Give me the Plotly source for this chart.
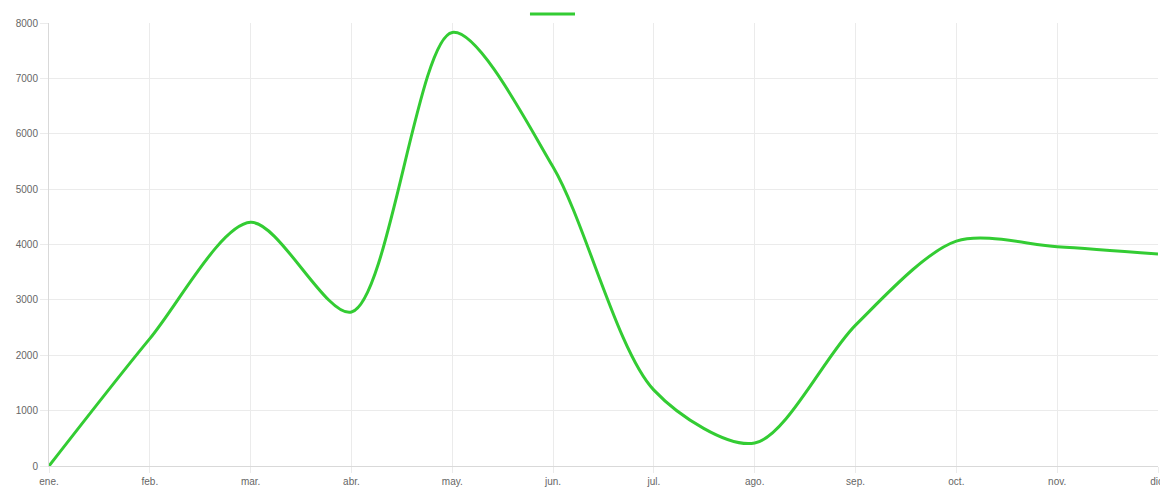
import plotly.graph_objects as go

months = ["ene.", "feb.", "mar.", "abr.", "may.", "jun.", "jul.", "ago.", "sep.", "oct.", "nov.", "dic."]
values = [0, 2300, 4400, 2780, 7830, 5400, 1370, 415, 2545, 4060, 3960, 3830]
y_ticks = [0, 1000, 2000, 3000, 4000, 5000, 6000, 7000, 8000]

line_color = "#33cc33"
grid_color = "#ebebeb"
font = dict(family="Liberation Sans, Arial, sans-serif", size=10, color="#666666")

fig = go.Figure()
fig.add_trace(go.Scatter(
    x=months, y=values, mode="lines",
    line=dict(color=line_color, width=3, shape="spline", smoothing=0.85),
    showlegend=False, hoverinfo="x+y",
))

fig.update_layout(
    width=1160, height=489,
    margin=dict(l=49, r=2, t=23, b=23),
    paper_bgcolor="white", plot_bgcolor="white",
    font=font,
    showlegend=False,
    xaxis=dict(
        type="category", range=[0, len(months) - 1],
        showgrid=True, gridcolor=grid_color, gridwidth=1,
        showline=True, linecolor="#d9d9d9", linewidth=1,
        ticks="outside", ticklen=6, tickcolor=grid_color,
        tickfont=font, automargin=False, zeroline=False,
        ticklabeloverflow="allow",
    ),
    yaxis=dict(
        range=[0, 8000], tickvals=y_ticks, ticktext=[str(v) for v in y_ticks],
        showgrid=True, gridcolor=grid_color, gridwidth=1,
        showline=True, linecolor="#d9d9d9", linewidth=1,
        ticks="outside", ticklen=8, tickcolor=grid_color,
        tickfont=font, automargin=False, zeroline=False,
    ),
    shapes=[dict(
        type="line", xref="paper", yref="paper",
        x0=0.4337, x1=0.4743, y0=1.0203, y1=1.0203,
        line=dict(color=line_color, width=3),
    )],
)

fig.write_html(
    "out.html",
    config={"displayModeBar": False},
    post_script="document.body.style.margin='0';document.body.style.overflow='hidden';",
)
